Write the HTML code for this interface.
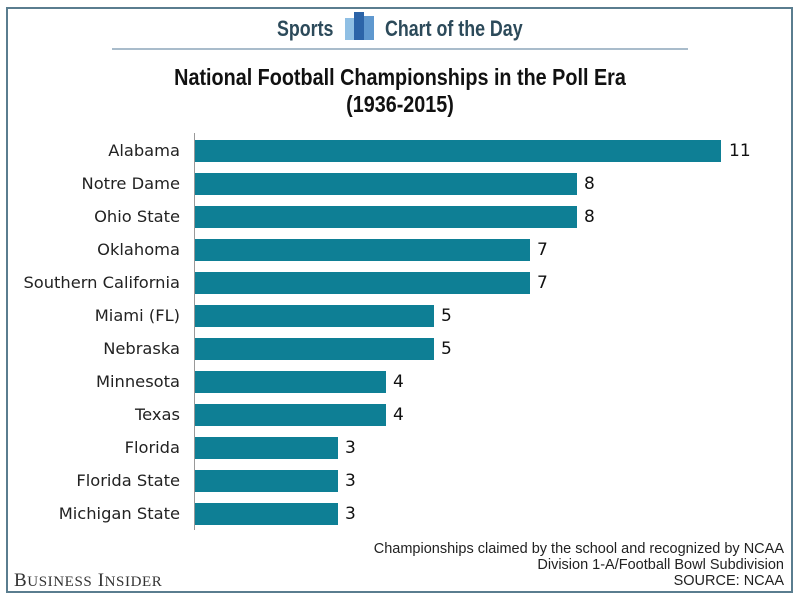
<!DOCTYPE html>
<html><head><style>
body{margin:0;width:800px;height:600px;background:#fff;position:relative;overflow:hidden;font-family:"Liberation Sans",sans-serif}
.frame{position:absolute;left:6px;top:7px;width:787px;height:586px;border:2px solid #5a7d8f;box-sizing:border-box}
.hl{position:absolute;left:112px;width:576px;top:48px;height:2px;background:#a9bccb}
.hdr{position:absolute;top:16px;font-size:22px;font-weight:bold;color:#2c4a5a;transform-origin:0 0;transform:scaleX(0.81)}
.title{position:absolute;left:0;width:800px;text-align:center;top:64px;font-size:23px;font-weight:bold;line-height:27px;color:#111;transform:scaleX(0.86)}
.lab{position:absolute;right:620px;font-size:16.3px;color:#222;text-align:right;white-space:nowrap;font-family:"DejaVu Sans",sans-serif}
.bar{position:absolute;left:195px;height:22px;background:#0e7f95}
.val{position:absolute;font-size:17px;color:#111;font-family:"DejaVu Sans",sans-serif}
.axis{position:absolute;left:194px;top:133px;width:1px;height:397px;background:#999}
.note{position:absolute;right:16px;top:541px;text-align:right;font-size:14.5px;line-height:16px;color:#222}
.bi{position:absolute;left:14px;top:570px;font-family:"Liberation Serif",serif;font-size:19px;color:#333;letter-spacing:0.6px}
</style></head><body>
<div class="frame"></div>
<div class="hl"></div>
<div class="hdr" style="left:277px">Sports</div>
<svg style="position:absolute;left:345px;top:12px" width="30" height="28"><rect x="0" y="6" width="9" height="22" fill="#8fbfe4"/><rect x="9" y="0" width="10" height="28" fill="#2c64a8"/><rect x="19" y="4" width="10" height="24" fill="#5f98cf"/></svg>
<div class="hdr" style="left:385px">Chart of the Day</div>
<div class="title">National Football Championships in the Poll Era<br>(1936-2015)</div>
<div class="axis"></div>
<div class="note">Championships claimed by the school and recognized by NCAA<br>Division 1-A/Football Bowl Subdivision<br>SOURCE: NCAA</div>
<div class="bi">B<span style="font-size:15px">USINESS</span> I<span style="font-size:15px">NSIDER</span></div>
<div class="lab" style="top:141px">Alabama</div><div class="bar" style="top:140px;width:526px"></div><div class="val" style="left:729px;top:141px">11</div>
<div class="lab" style="top:174px">Notre Dame</div><div class="bar" style="top:173px;width:382px"></div><div class="val" style="left:584px;top:174px">8</div>
<div class="lab" style="top:207px">Ohio State</div><div class="bar" style="top:206px;width:382px"></div><div class="val" style="left:584px;top:207px">8</div>
<div class="lab" style="top:240px">Oklahoma</div><div class="bar" style="top:239px;width:335px"></div><div class="val" style="left:537px;top:240px">7</div>
<div class="lab" style="top:273px">Southern California</div><div class="bar" style="top:272px;width:335px"></div><div class="val" style="left:537px;top:273px">7</div>
<div class="lab" style="top:306px">Miami (FL)</div><div class="bar" style="top:305px;width:239px"></div><div class="val" style="left:441px;top:306px">5</div>
<div class="lab" style="top:339px">Nebraska</div><div class="bar" style="top:338px;width:239px"></div><div class="val" style="left:441px;top:339px">5</div>
<div class="lab" style="top:372px">Minnesota</div><div class="bar" style="top:371px;width:191px"></div><div class="val" style="left:393px;top:372px">4</div>
<div class="lab" style="top:405px">Texas</div><div class="bar" style="top:404px;width:191px"></div><div class="val" style="left:393px;top:405px">4</div>
<div class="lab" style="top:438px">Florida</div><div class="bar" style="top:437px;width:143px"></div><div class="val" style="left:345px;top:438px">3</div>
<div class="lab" style="top:471px">Florida State</div><div class="bar" style="top:470px;width:143px"></div><div class="val" style="left:345px;top:471px">3</div>
<div class="lab" style="top:504px">Michigan State</div><div class="bar" style="top:503px;width:143px"></div><div class="val" style="left:345px;top:504px">3</div>
</body></html>
